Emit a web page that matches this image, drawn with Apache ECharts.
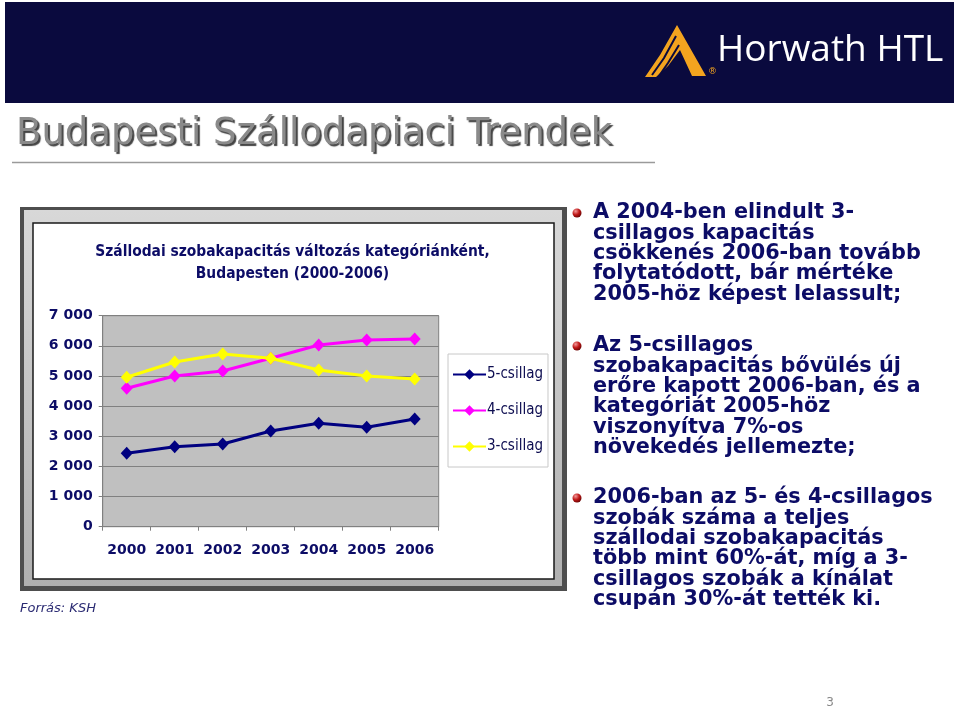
<!DOCTYPE html>
<html>
<head>
<meta charset="utf-8">
<script src="https://cdn.jsdelivr.net/npm/echarts@6/dist/echarts.min.js"></script>
<style>
html,body{margin:0;padding:0;background:#fff;}
#main{width:959px;height:708px;}
</style>
</head>
<body>
<div id="main"></div>
<script>
// ---- data ----
const categories = ['2000', '2001', '2002', '2003', '2004', '2005', '2006'];
const seriesNames = ['5-csillag', '4-csillag', '3-csillag'];
const fiveStar = [2435, 2654, 2744, 3175, 3430, 3298, 3573];
const fourStar = [4592, 5000, 5166, 5590, 6029, 6195, 6228];
const threeStar = [4957, 5464, 5730, 5587, 5199, 5000, 4900];
const yTicks = [0, 1000, 2000, 3000, 4000, 5000, 6000, 7000];
const chartTitle = 'Szállodai szobakapacitás változás kategóriánként,\nBudapesten (2000-2006)';
const slideTitle = 'Budapesti Szállodapiaci Trendek';
const bullets = [
  ['A 2004-ben elindult 3-', 'csillagos kapacitás', 'csökkenés 2006-ban tovább', 'folytatódott, bár mértéke', '2005-höz képest lelassult;'],
  ['Az 5-csillagos', 'szobakapacitás bővülés új', 'erőre kapott 2006-ban, és a', 'kategóriát 2005-höz', 'viszonyítva 7%-os', 'növekedés jellemezte;'],
  ['2006-ban az 5- és 4-csillagos', 'szobák száma a teljes', 'szállodai szobakapacitás', 'több mint 60%-át, míg a 3-', 'csillagos szobák a kínálat', 'csupán 30%-át tették ki.']
];
const sourceNote = 'Forrás: KSH';
const pageNumber = '3';
const logoText = 'Horwath HTL';

// ---- styles ----
const NAVY = '#0c0c66';
const colors = ['#000080', '#ff00ff', '#ffff00'];
const bulletTops = [213, 346, 498];
const LH = 20.3;

const chart = echarts.init(document.getElementById('main'), null, {renderer: 'canvas'});

const fmt = v => v === 0 ? '0' : String(v).replace(/\B(?=(\d{3})+(?!\d))/g, ' ');

const graphics = [];
// header bar
graphics.push({type: 'rect', z: -10, shape: {x: 5, y: 2, width: 949, height: 101}, style: {fill: '#0a0a3e'}});
// logo peak
graphics.push({type: 'polygon', z: -5, shape: {points: [[677, 25], [706, 76], [692, 76], [680, 50], [668, 66], [656, 77], [645, 77], [660, 55]]}, style: {fill: '#f3a41f'}});
graphics.push({type: 'polyline', z: -4, shape: {points: [[676, 36], [664, 58], [652, 75]]}, style: {stroke: '#0a0a3e', lineWidth: 2, fill: null}});
graphics.push({type: 'polyline', z: -4, shape: {points: [[679, 45], [668, 63], [659, 76]]}, style: {stroke: '#0a0a3e', lineWidth: 2, fill: null}});
graphics.push({type: 'text', z: -4, x: 708, y: 72, style: {text: '®', font: '9px "DejaVu Sans"', fill: '#f3a41f', verticalAlign: 'middle'}});
graphics.push({type: 'text', z: -4, x: 717, y: 50, style: {text: logoText, font: '37px "Open Sans"', fill: '#ffffff', verticalAlign: 'middle'}});
// slide title
graphics.push({type: 'text', x: 16, y: 134, style: {text: slideTitle, font: '37px "DejaVu Sans"', fill: '#8a8a8a', verticalAlign: 'middle', textShadowColor: '#444444', textShadowOffsetX: 2, textShadowOffsetY: 2, textShadowBlur: 1}});
graphics.push({type: 'line', shape: {x1: 12, y1: 162.5, x2: 655, y2: 162.5}, style: {stroke: '#9a9a9a', lineWidth: 1.5}});
// chart frame
graphics.push({type: 'rect', z: -3, shape: {x: 20, y: 207, width: 547, height: 384}, style: {fill: '#4e4e4e'}});
graphics.push({type: 'rect', z: -3, shape: {x: 24, y: 210, width: 538, height: 376}, style: {fill: new echarts.graphic.LinearGradient(0, 0, 0, 1, [{offset: 0, color: '#d8d8d8'}, {offset: 1, color: '#b0b0b0'}])}});
graphics.push({type: 'rect', z: -3, shape: {x: 33, y: 223, width: 521, height: 356}, style: {fill: '#ffffff', stroke: '#1a1a1a', lineWidth: 1.5}});
graphics.push({type: 'text', x: 20, y: 609, style: {text: sourceNote, font: 'italic 13px "DejaVu Sans"', fill: '#2a2a72', verticalAlign: 'middle'}});
// bullets
bullets.forEach((lines, i) => {
  const top = bulletTops[i];
  graphics.push({type: 'circle', shape: {cx: 577, cy: top, r: 4.5}, style: {fill: new echarts.graphic.RadialGradient(0.35, 0.3, 0.8, [{offset: 0, color: '#f29a9a'}, {offset: 0.5, color: '#c01818'}, {offset: 1, color: '#5a0000'}])}});
  graphics.push({type: 'text', x: 593, y: top - LH / 2, style: {text: lines.join('\n'), font: 'bold 20.8px "DejaVu Sans"', lineHeight: LH, fill: NAVY, verticalAlign: 'top'}});
});
graphics.push({type: 'text', x: 830, y: 703, style: {text: pageNumber, font: '12px "DejaVu Sans"', fill: '#888888', align: 'center', verticalAlign: 'middle'}});

const seriesData = [fiveStar, fourStar, threeStar];

chart.setOption({
  animation: false,
  backgroundColor: '#ffffff',
  title: {
    text: chartTitle,
    left: 287.5,
    top: 236,
    textAlign: 'center',
    textStyle: {fontFamily: '"DejaVu Sans Condensed", "DejaVu Sans"', fontWeight: 'bold', fontSize: 15.4, color: NAVY, lineHeight: 22}
  },
  legend: {
    orient: 'vertical',
    left: 448,
    top: 354,
    padding: [13, 5, 13, 4],
    itemGap: 21,
    itemWidth: 33,
    itemHeight: 13,
    backgroundColor: '#ffffff',
    borderColor: '#c8c8c8',
    borderWidth: 1,
    data: seriesNames,
    textStyle: {fontFamily: '"DejaVu Sans Condensed", "DejaVu Sans"', fontSize: 15, color: '#0c0c50', padding: [0, 0, 0, -4]}
  },
  grid: {left: 102.7, top: 315.7, width: 336, height: 211, show: true, backgroundColor: '#c0c0c0', borderColor: '#808080', borderWidth: 1},
  xAxis: {
    type: 'category',
    data: categories,
    boundaryGap: true,
    axisLine: {lineStyle: {color: '#808080', width: 1}},
    axisTick: {show: true, length: 4, interval: 0, lineStyle: {color: '#808080'}},
    axisLabel: {interval: 0, hideOverlap: false, color: NAVY, fontWeight: 'bold', fontSize: 14, fontFamily: '"DejaVu Sans"', margin: 17}
  },
  yAxis: {
    type: 'value',
    min: yTicks[0],
    max: yTicks[yTicks.length - 1],
    interval: 1000,
    axisLine: {show: true, lineStyle: {color: '#808080'}},
    axisTick: {show: true, length: 4, lineStyle: {color: '#808080'}},
    splitLine: {lineStyle: {color: '#808080', width: 1}},
    axisLabel: {color: NAVY, fontWeight: 'bold', fontSize: 14, fontFamily: '"DejaVu Sans"', margin: 10, formatter: fmt}
  },
  series: seriesNames.map((name, i) => ({
    name: name,
    type: 'line',
    data: seriesData[i],
    symbol: 'diamond',
    symbolSize: [12, 13],
    lineStyle: {color: colors[i], width: 3},
    itemStyle: {color: colors[i]},
    z: 2 + i
  })),
  graphic: graphics
});
</script>
</body>
</html>
